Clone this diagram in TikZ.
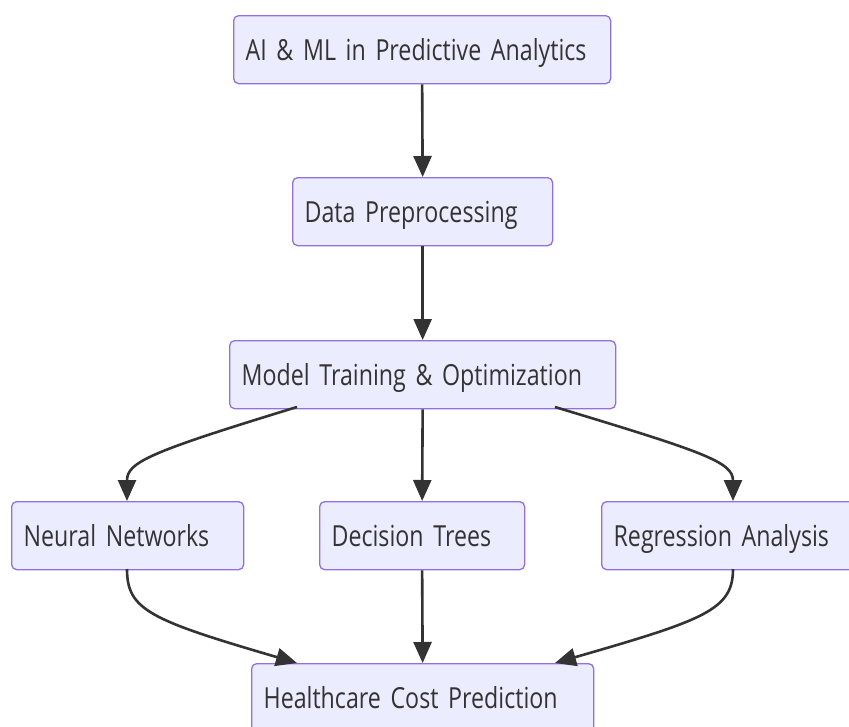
\documentclass[tikz,border=0pt]{standalone}
\usepackage{fontspec}
\newfontfamily\boxfont[FakeStretch=0.8]{Open Sans}
\newcommand\boxtxtfont{\boxfont\fontsize{29}{32}\selectfont\spaceskip=5.5pt\relax}
\usetikzlibrary{arrows.meta}
\definecolor{boxfill}{HTML}{ECECFF}
\definecolor{boxline}{HTML}{9370DB}
\definecolor{edgecol}{HTML}{333333}
\tikzset{
  box/.style={draw=boxline, fill=boxfill, line width=1.3pt, rounded corners=5pt,
    anchor=north west, minimum height=68pt, inner xsep=12pt, inner ysep=0pt,
    text height=26pt, text depth=4pt,
    align=left, text=edgecol, font=\boxtxtfont},
  flow/.style={draw=edgecol, line width=2.6pt, -{Triangle[length=21pt,width=18pt]}}
}
\begin{document}
\begin{tikzpicture}[x=1pt,y=-1pt]
\useasboundingbox (0,0) rectangle (849,726);
\clip (0,0) rectangle (849,726);
\fill[white] (0,0) rectangle (849,726);
\node[box, text width=353pt] (ai) at (233,15) {AI \& ML in Predictive Analytics};
\node[box, text width=236pt] (dp) at (292,177) {Data Preprocessing};
\node[box, text width=362pt] (mt) at (229,340) {Model Training \& Optimization};
\node[box, text width=208pt] (nn) at (11,501) {Neural Networks};
\node[box, text width=181pt] (dt) at (319,501) {Decision Trees};
\node[box, text width=238pt] (ra) at (601,501) {Regression Analysis};
\node[box, text width=318pt] (hc) at (251,663) {Healthcare Cost Prediction};
\coordinate (mtL) at (297,407);
\coordinate (mtR) at (555,407);
\coordinate (nnT) at (127,501);
\coordinate (raT) at (733,501);
\coordinate (nnB) at (127,569);
\coordinate (raB) at (733,569);
\coordinate (hcL) at (297,663);
\coordinate (hcR) at (555,663);
\draw[flow] (ai.south) -- (dp.north);
\draw[flow] (dp.south) -- (mt.north);
\draw[flow] (mt.south) -- (dt.north);
\draw[flow] (dt.south) -- (hc.north);
\draw[flow] (mtL) .. controls (150,452) and (127,462) .. (nnT);
\draw[flow] (mtR) .. controls (704,452) and (733,462) .. (raT);
\draw[flow] (nnB) .. controls (127,610) and (150,620) .. (hcL);
\draw[flow] (raB) .. controls (733,610) and (704,620) .. (hcR);
\end{tikzpicture}
\end{document}
